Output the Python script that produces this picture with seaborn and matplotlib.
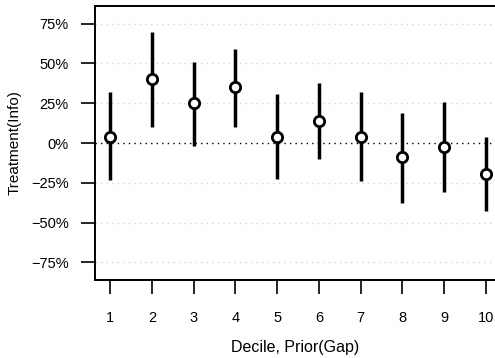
import matplotlib
matplotlib.use("Agg")
import matplotlib.pyplot as plt
import seaborn as sns
import pandas as pd
from matplotlib.ticker import PercentFormatter

# values (fractions)
deciles = [1, 2, 3, 4, 5, 6, 7, 8, 9, 10]
estimate = [0.04, 0.40, 0.25, 0.35, 0.04, 0.14, 0.04, -0.09, -0.025, -0.195]
ci_low = [-0.23, 0.10, -0.02, 0.10, -0.225, -0.10, -0.24, -0.375, -0.31, -0.43]
ci_high = [0.32, 0.695, 0.51, 0.59, 0.31, 0.38, 0.32, 0.19, 0.255, 0.04]
y_ticks = [-0.75, -0.5, -0.25, 0, 0.25, 0.5, 0.75]

df = pd.DataFrame({"decile": deciles, "est": estimate, "lo": ci_low, "hi": ci_high})
long = df.melt(id_vars="decile", value_vars=["lo", "est", "hi"], value_name="value")

sns.set_style("white", {"text.color": "black", "axes.labelcolor": "black",
                        "xtick.color": "black", "ytick.color": "black"})
plt.rcParams["font.family"] = ["Liberation Sans", "DejaVu Sans"]

fig = plt.figure(figsize=(4.95, 3.58), dpi=100)
ax = fig.add_axes([0.192, 0.218, 0.808, 0.765])

# grid lines
for t in y_ticks:
    if t == 0:
        ax.axhline(t, color="black", linestyle=(0, (1, 3)), linewidth=1.0, zorder=1)
    else:
        ax.axhline(t, color="#d4d4d4", linestyle=(0, (1, 3)), linewidth=1.0, zorder=0)

# error bars: interval spans min..max of lo/est/hi
sns.pointplot(data=long, x="decile", y="value", estimator="median",
              errorbar=lambda v: (v.min(), v.max()), native_scale=True,
              color="black", marker="", linestyle="none",
              err_kws={"linewidth": 2.5, "solid_capstyle": "butt"}, ax=ax)

sns.scatterplot(data=df, x="decile", y="est", marker="o", s=55,
                facecolor="white", edgecolor="black", linewidth=2.0,
                zorder=5, ax=ax)

ax.set_xlim(0.64, 10.22)
ax.set_ylim(-0.86, 0.86)
ax.set_xticks(deciles)
ax.set_xticklabels([str(d) for d in deciles])
ax.set_yticks(y_ticks)
ax.yaxis.set_major_formatter(PercentFormatter(1.0, decimals=0))
ax.tick_params(axis="both", direction="out", length=10, width=1.2,
               color="black", labelcolor="black", labelsize=10.5,
               left=True, bottom=True)
ax.tick_params(axis="x", pad=12)
ax.tick_params(axis="y", pad=9)
ax.set_xlabel("Decile, Prior(Gap)", fontsize=11.5, labelpad=11, color="black")
ax.set_ylabel("Treatment(Info)", fontsize=11, labelpad=7, color="black")

for side in ("left", "top", "bottom"):
    ax.spines[side].set_color("black")
    ax.spines[side].set_linewidth(1.4)
ax.spines["right"].set_visible(False)

fig.savefig("out.png", dpi=100)
